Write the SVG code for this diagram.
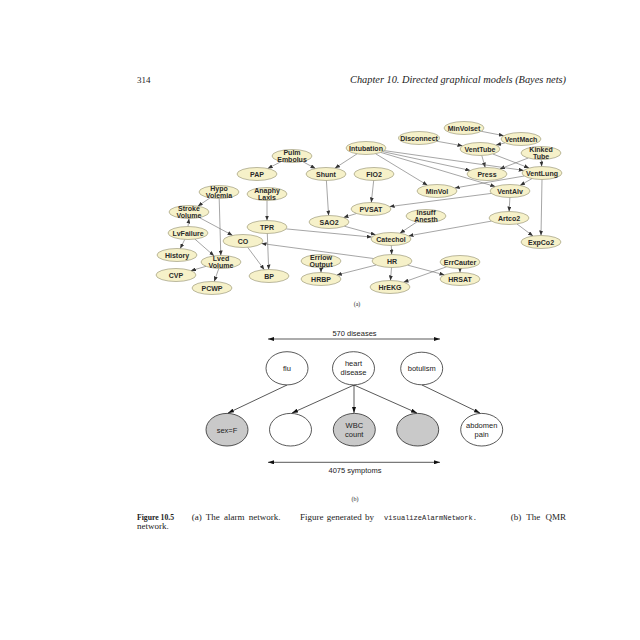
<svg xmlns="http://www.w3.org/2000/svg" width="640" height="640" viewBox="0 0 640 640">
<style>
.n ellipse{fill:#f6f1c9;stroke:#8f8b6a;stroke-width:0.6}
.n text{font-family:"Liberation Sans",Arial,sans-serif;font-weight:bold;font-size:7px;fill:#2a2a2a;text-anchor:middle}
.e line{stroke:#6a6a6a;stroke-width:0.6;marker-end:url(#ah)}
.q ellipse{stroke:#111;stroke-width:0.7}
.q text{font-family:"Liberation Sans",Arial,sans-serif;font-size:7.5px;fill:#222;text-anchor:middle}
.qe line{stroke:#111;stroke-width:0.7;marker-end:url(#qa)}
.serif{font-family:"Liberation Serif","Times New Roman",serif;fill:#222}
.lbl{font-family:"Liberation Sans",Arial,sans-serif;font-size:7.5px;fill:#222;text-anchor:middle}
</style>
<defs>
<marker id="ah" markerUnits="userSpaceOnUse" markerWidth="5" markerHeight="4" viewBox="0 0 5 4" refX="5" refY="2" orient="auto"><path d="M0,0 L5,2 L0,4 z" fill="#333"/></marker>
<marker id="qa" markerUnits="userSpaceOnUse" markerWidth="6" markerHeight="4" viewBox="0 0 6 4" refX="6" refY="2" orient="auto"><path d="M0,0 L6,2 L0,4 z" fill="#111"/></marker>
<marker id="da" markerUnits="userSpaceOnUse" markerWidth="6" markerHeight="4" viewBox="0 0 6 4" refX="6" refY="2" orient="auto-start-reverse"><path d="M0,0 L6,2 L0,4 z" fill="#111"/></marker>
</defs>
<rect width="640" height="640" fill="#fff"/>

<text class="serif" x="137" y="83" font-size="9">314</text>
<text class="serif" x="350" y="83" font-size="9.5" font-style="italic" textLength="216" lengthAdjust="spacingAndGlyphs">Chapter 10.  Directed graphical models (Bayes nets)</text>

<g class="e">
<line x1="481.2" y1="131.3" x2="503.8" y2="135.7"/>
<line x1="436.5" y1="141.2" x2="462.5" y2="145.8"/>
<line x1="505" y1="142.9" x2="496" y2="145.1"/>
<line x1="481.8" y1="155.5" x2="485.2" y2="167.5"/>
<line x1="492.9" y1="154" x2="529.1" y2="168"/>
<line x1="528.2" y1="158" x2="499.8" y2="169"/>
<line x1="541.3" y1="159.5" x2="541.7" y2="166.5"/>
<line x1="357.1" y1="153.8" x2="334.9" y2="168.2"/>
<line x1="382.7" y1="151.6" x2="470.3" y2="170.4"/>
<line x1="384.3" y1="150.6" x2="523.7" y2="170.4"/>
<line x1="375.5" y1="153.7" x2="427.5" y2="185.3"/>
<line x1="380.7" y1="152.4" x2="495.3" y2="186.6"/>
<line x1="281.3" y1="161.5" x2="267.7" y2="168.5"/>
<line x1="302.5" y1="161.5" x2="315.5" y2="168.5"/>
<line x1="524.3" y1="176" x2="454.7" y2="188"/>
<line x1="532" y1="178.6" x2="520" y2="185.4"/>
<line x1="542" y1="179.5" x2="541" y2="235.5"/>
<line x1="373.7" y1="180.5" x2="371.3" y2="202.5"/>
<line x1="491.4" y1="193.4" x2="389.6" y2="206.6"/>
<line x1="509.9" y1="197.5" x2="509.1" y2="211.5"/>
<line x1="326.4" y1="180.5" x2="328.6" y2="215.5"/>
<line x1="356.5" y1="213.5" x2="343.5" y2="217.5"/>
<line x1="491.5" y1="221.1" x2="408.5" y2="235.9"/>
<line x1="517" y1="224" x2="533" y2="236"/>
<line x1="417.1" y1="221.8" x2="399.9" y2="233.2"/>
<line x1="344.3" y1="226.2" x2="375.7" y2="234.8"/>
<line x1="286.2" y1="228.9" x2="371.8" y2="237.1"/>
<line x1="267" y1="200.5" x2="267" y2="220.5"/>
<line x1="267.3" y1="233.5" x2="268.7" y2="269.5"/>
<line x1="247.7" y1="247.3" x2="264.3" y2="269.7"/>
<line x1="210.2" y1="197.8" x2="197.8" y2="206.2"/>
<line x1="219.2" y1="198.5" x2="220.8" y2="255.5"/>
<line x1="188" y1="226.5" x2="189" y2="218.5"/>
<line x1="184.8" y1="239.4" x2="180.2" y2="248.6"/>
<line x1="194.9" y1="239.1" x2="214.1" y2="255.9"/>
<line x1="199.4" y1="217.6" x2="232.6" y2="235.4"/>
<line x1="373.5" y1="258.5" x2="261.5" y2="243.5"/>
<line x1="391.3" y1="245.5" x2="391.7" y2="254.5"/>
<line x1="376.2" y1="265" x2="336.8" y2="275"/>
<line x1="321" y1="267.5" x2="321" y2="272.5"/>
<line x1="391.5" y1="267.5" x2="390.5" y2="280.5"/>
<line x1="407.5" y1="265.1" x2="444.5" y2="274.9"/>
<line x1="446.5" y1="266.8" x2="403.5" y2="282.2"/>
<line x1="460" y1="268.5" x2="460" y2="272.5"/>
<line x1="206.1" y1="266.3" x2="190.9" y2="270.7"/>
<line x1="218.8" y1="268.5" x2="214.2" y2="281.5"/>
</g>

<g id="MinVolset" class="n"><ellipse cx="464" cy="128" rx="20" ry="6.5"/><text x="464" y="130.5">MinVolset</text></g>
<g id="VentMach" class="n"><ellipse cx="521" cy="139" rx="20" ry="6.5"/><text x="521" y="141.5">VentMach</text></g>
<g id="Disconnect" class="n"><ellipse cx="419" cy="138" rx="20.5" ry="6.5"/><text x="419" y="140.5">Disconnect</text></g>
<g id="VentTube" class="n"><ellipse cx="480" cy="149" rx="20" ry="6.5"/><text x="480" y="151.5">VentTube</text></g>
<g id="KinkedTube" class="n"><ellipse cx="541" cy="153" rx="20" ry="6.5"/><text x="541" y="152">Kinked</text><text x="541" y="158.5">Tube</text></g>
<g id="Intubation" class="n"><ellipse cx="366" cy="148" rx="20" ry="6.5"/><text x="366" y="150.5">Intubation</text></g>
<g id="PulmEmbolus" class="n"><ellipse cx="292" cy="156" rx="20" ry="6.5"/><text x="292" y="155">Pulm</text><text x="292" y="161.5">Embolus</text></g>
<g id="PAP" class="n"><ellipse cx="257" cy="174" rx="20" ry="6.5"/><text x="257" y="176.5">PAP</text></g>
<g id="Shunt" class="n"><ellipse cx="326" cy="174" rx="20" ry="6.5"/><text x="326" y="176.5">Shunt</text></g>
<g id="FIO2" class="n"><ellipse cx="374" cy="174" rx="20" ry="6.5"/><text x="374" y="176.5">FIO2</text></g>
<g id="Press" class="n"><ellipse cx="487" cy="174" rx="20" ry="6.5"/><text x="487" y="176.5">Press</text></g>
<g id="VentLung" class="n"><ellipse cx="542" cy="173" rx="20" ry="6.5"/><text x="542" y="175.5">VentLung</text></g>
<g id="HypoVolemia" class="n"><ellipse cx="219" cy="192" rx="20" ry="6.5"/><text x="219" y="191">Hypo</text><text x="219" y="197.5">Volemia</text></g>
<g id="AnaphyLaxis" class="n"><ellipse cx="267" cy="194" rx="20" ry="6.5"/><text x="267" y="193">Anaphy</text><text x="267" y="199.5">Laxis</text></g>
<g id="MinVol" class="n"><ellipse cx="437" cy="191" rx="20" ry="6.5"/><text x="437" y="193.5">MinVol</text></g>
<g id="VentAlv" class="n"><ellipse cx="510" cy="191" rx="20" ry="6.5"/><text x="510" y="193.5">VentAlv</text></g>
<g id="StrokeVolume" class="n"><ellipse cx="189" cy="212" rx="20" ry="6.5"/><text x="189" y="211">Stroke</text><text x="189" y="217.5">Volume</text></g>
<g id="PVSAT" class="n"><ellipse cx="371" cy="209" rx="20" ry="6.5"/><text x="371" y="211.5">PVSAT</text></g>
<g id="InsuffAnesth" class="n"><ellipse cx="426" cy="216" rx="20" ry="6.5"/><text x="426" y="215">Insuff</text><text x="426" y="221.5">Anesth</text></g>
<g id="Artco2" class="n"><ellipse cx="509" cy="218" rx="20" ry="6.5"/><text x="509" y="220.5">Artco2</text></g>
<g id="SAO2" class="n"><ellipse cx="329" cy="222" rx="20" ry="6.5"/><text x="329" y="224.5">SAO2</text></g>
<g id="TPR" class="n"><ellipse cx="267" cy="227" rx="20" ry="6.5"/><text x="267" y="229.5">TPR</text></g>
<g id="LvFailure" class="n"><ellipse cx="188" cy="233" rx="20" ry="6.5"/><text x="188" y="235.5">LvFailure</text></g>
<g id="CO" class="n"><ellipse cx="243" cy="241" rx="20" ry="6.5"/><text x="243" y="243.5">CO</text></g>
<g id="Catechol" class="n"><ellipse cx="391" cy="239" rx="20" ry="6.5"/><text x="391" y="241.5">Catechol</text></g>
<g id="ExpCo2" class="n"><ellipse cx="541" cy="242" rx="20" ry="6.5"/><text x="541" y="244.5">ExpCo2</text></g>
<g id="History" class="n"><ellipse cx="177" cy="255" rx="20" ry="6.5"/><text x="177" y="257.5">History</text></g>
<g id="LvedVolume" class="n"><ellipse cx="221" cy="262" rx="20" ry="6.5"/><text x="221" y="261">Lved</text><text x="221" y="267.5">Volume</text></g>
<g id="ErrlowOutput" class="n"><ellipse cx="321" cy="261" rx="20" ry="6.5"/><text x="321" y="260">Errlow</text><text x="321" y="266.5">Output</text></g>
<g id="HR" class="n"><ellipse cx="392" cy="261" rx="20" ry="6.5"/><text x="392" y="263.5">HR</text></g>
<g id="ErrCauter" class="n"><ellipse cx="460" cy="262" rx="20" ry="6.5"/><text x="460" y="264.5">ErrCauter</text></g>
<g id="CVP" class="n"><ellipse cx="176" cy="275" rx="20" ry="6.5"/><text x="176" y="277.5">CVP</text></g>
<g id="HRBP" class="n"><ellipse cx="321" cy="279" rx="20" ry="6.5"/><text x="321" y="281.5">HRBP</text></g>
<g id="BP" class="n"><ellipse cx="269" cy="276" rx="20" ry="6.5"/><text x="269" y="278.5">BP</text></g>
<g id="HRSAT" class="n"><ellipse cx="460" cy="279" rx="20" ry="6.5"/><text x="460" y="281.5">HRSAT</text></g>
<g id="PCWP" class="n"><ellipse cx="212" cy="288" rx="20" ry="6.5"/><text x="212" y="290.5">PCWP</text></g>
<g id="HrEKG" class="n"><ellipse cx="390" cy="287" rx="20" ry="6.5"/><text x="390" y="289.5">HrEKG</text></g>

<text class="serif" x="357" y="306" font-size="6" text-anchor="middle">(a)</text>

<g id="qmr-ranges">
<line x1="268" y1="339" x2="440" y2="339" stroke="#111" stroke-width="0.7" marker-start="url(#da)" marker-end="url(#da)"/>
<text class="lbl" x="354.5" y="336">570 diseases</text>
<line x1="268" y1="462.3" x2="440" y2="462.3" stroke="#111" stroke-width="0.7" marker-start="url(#da)" marker-end="url(#da)"/>
<text class="lbl" x="355" y="473">4075 symptoms</text>
</g>

<g class="qe">
<line x1="287" y1="385" x2="228" y2="413"/>
<line x1="354" y1="385" x2="292" y2="413"/>
<line x1="354" y1="385" x2="354" y2="413"/>
<line x1="354" y1="385" x2="417" y2="413"/>
<line x1="422" y1="385" x2="480" y2="413"/>
</g>

<g id="flu" class="q"><ellipse cx="287" cy="368.3" rx="21" ry="16.6" fill="#fff"/><text x="287" y="371">flu</text></g>
<g id="heart" class="q"><ellipse cx="353.5" cy="368.3" rx="21" ry="16.6" fill="#fff"/><text x="353.5" y="366">heart</text><text x="353.5" y="375">disease</text></g>
<g id="botulism" class="q"><ellipse cx="421.7" cy="368.5" rx="21" ry="16.3" fill="#fff"/><text x="421.7" y="371">botulism</text></g>
<g id="sexF" class="q"><ellipse cx="227" cy="429.7" rx="21" ry="16.3" fill="#c9c9c9"/><text x="227" y="432.5">sex=F</text></g>
<g id="sym2" class="q"><ellipse cx="290.5" cy="429.7" rx="21" ry="16.3" fill="#fff"/></g>
<g id="wbc" class="q"><ellipse cx="354.3" cy="429.7" rx="21" ry="16.3" fill="#c9c9c9"/><text x="354.3" y="427.5">WBC</text><text x="354.3" y="436.5">count</text></g>
<g id="sym4" class="q"><ellipse cx="417.7" cy="429.7" rx="21" ry="16.3" fill="#c9c9c9"/></g>
<g id="abdomen" class="q"><ellipse cx="481.7" cy="429.7" rx="21" ry="16.3" fill="#fff"/><text x="481.7" y="427.5">abdomen</text><text x="481.7" y="436.5">pain</text></g>

<text class="serif" x="355" y="501" font-size="6" text-anchor="middle">(b)</text>

<g class="serif" font-size="9">
<text x="137" y="519.5" font-weight="bold" textLength="37" lengthAdjust="spacingAndGlyphs">Figure 10.5</text>
<text x="191.7" y="519.5" word-spacing="2">(a) The alarm network.</text>
<text x="300" y="519.5" word-spacing="1">Figure generated by</text>
<text x="384" y="519.5" font-family="Liberation Mono,Courier New,monospace" font-size="7" textLength="93" lengthAdjust="spacingAndGlyphs">visualizeAlarmNetwork.</text>
<text x="566" y="519.5" text-anchor="end" word-spacing="3">(b) The QMR</text>
<text x="137" y="529">network.</text>
</g>
</svg>
